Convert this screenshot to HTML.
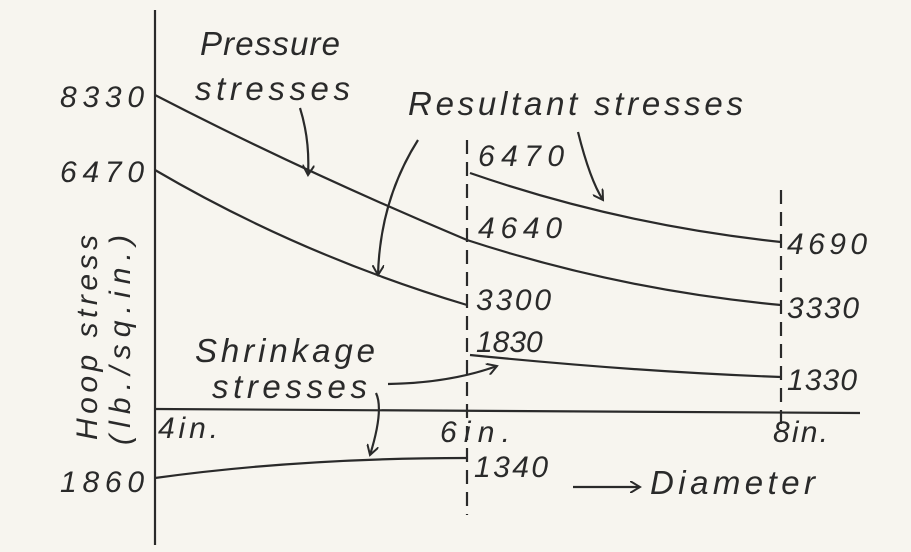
<!DOCTYPE html>
<html><head><style>
html,body{margin:0;padding:0;background:#f7f5ef;}
svg{display:block}
text{font-family:"Liberation Sans",sans-serif;font-style:italic;fill:#2a2a2a}
</style></head><body>
<svg width="911" height="552" viewBox="0 0 911 552" xmlns="http://www.w3.org/2000/svg">
<rect width="911" height="552" fill="#f7f5ef"/>
<defs><marker id="a" markerWidth="12" markerHeight="12" refX="10" refY="6" orient="auto" markerUnits="userSpaceOnUse"><path d="M0,0 L10,6 L0,12" fill="none" stroke="#2a2a2a" stroke-width="2"/></marker></defs>
<g stroke="#2a2a2a" stroke-width="2.2" fill="none">
<line x1="155" y1="10" x2="155" y2="545"/>
<line x1="155" y1="409" x2="860" y2="413"/>
<line x1="467" y1="140" x2="467" y2="515" stroke-dasharray="14,8"/>
<line x1="781" y1="190" x2="781" y2="430" stroke-dasharray="14,8"/>
<path d="M155,95 Q300,170 467,240 Q620,290 781,305"/>
<path d="M155,170 Q300,255 467,305"/>
<path d="M470,173 Q620,225 781,242"/>
<path d="M470,355 Q640,372 781,377"/>
<path d="M155,478 Q300,458 467,458"/>
<path d="M300,108 Q310,140 308,175" marker-end="url(#a)"/>
<path d="M418,140 Q380,200 378,275" marker-end="url(#a)"/>
<path d="M578,132 Q590,180 603,200" marker-end="url(#a)"/>
<path d="M388,384 Q450,383 497,366" marker-end="url(#a)"/>
<path d="M376,393 Q384,410 370,455" marker-end="url(#a)"/>
<path d="M573,487 L640,487" marker-end="url(#a)"/>
</g>
<g font-size="33">
<text x="200" y="55" textLength="140" lengthAdjust="spacing">Pressure</text>
<text x="195" y="100" textLength="155" lengthAdjust="spacing">stresses</text>
<text x="408" y="115" textLength="335" lengthAdjust="spacing">Resultant stresses</text>
<text x="195" y="362" textLength="180" lengthAdjust="spacing">Shrinkage</text>
<text x="212" y="398" textLength="155" lengthAdjust="spacing">stresses</text>
<text x="650" y="494" textLength="165" lengthAdjust="spacing">Diameter</text>
</g>
<g font-size="30">
<text x="60" y="107" textLength="84" lengthAdjust="spacing">8330</text>
<text x="60" y="182" textLength="84" lengthAdjust="spacing">6470</text>
<text x="60" y="492" textLength="84" lengthAdjust="spacing">1860</text>
<text x="478" y="166" textLength="86" lengthAdjust="spacing">6470</text>
<text x="478" y="238" textLength="84" lengthAdjust="spacing">4640</text>
<text x="476" y="310" textLength="75" lengthAdjust="spacing">3300</text>
<text x="476" y="352">1830</text>
<text x="474" y="477" textLength="74" lengthAdjust="spacing">1340</text>
<text x="787" y="254" textLength="80" lengthAdjust="spacing">4690</text>
<text x="787" y="318" textLength="72" lengthAdjust="spacing">3330</text>
<text x="787" y="390" textLength="70" lengthAdjust="spacing">1330</text>
<text x="158" y="438" textLength="60" lengthAdjust="spacing">4in.</text>
<text x="440" y="442" textLength="70" lengthAdjust="spacing">6in.</text>
<text x="773" y="442" textLength="55" lengthAdjust="spacing">8in.</text>
</g>
<g font-size="30" transform="rotate(-90)">
<text x="-440" y="97" textLength="205" lengthAdjust="spacing">Hoop stress</text>
<text x="-445" y="130" textLength="210" lengthAdjust="spacing">(lb./sq.in.)</text>
</g>
</svg>
</body></html>
